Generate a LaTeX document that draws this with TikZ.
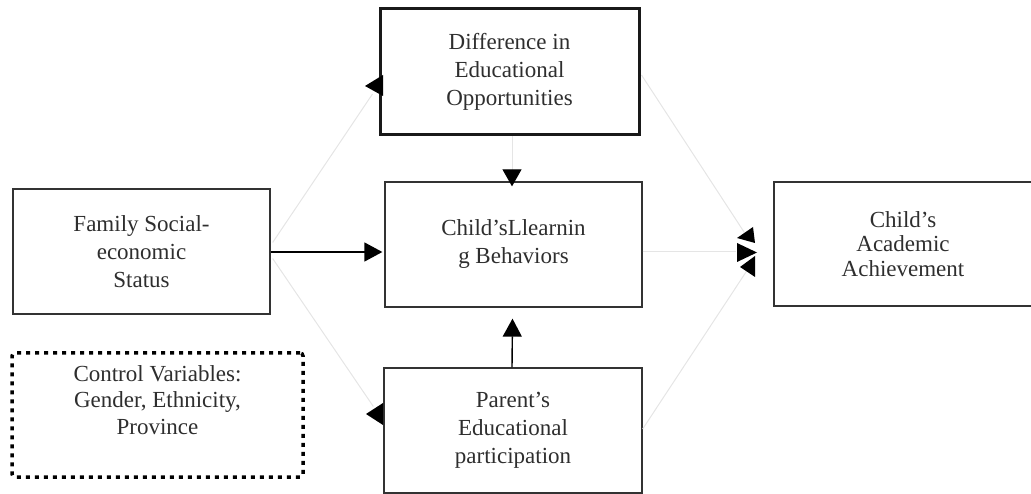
\documentclass[tikz,border=0pt]{standalone}
\usepackage{fontspec}
\setmainfont{Liberation Serif}
\usetikzlibrary{arrows.meta,calc}
\begin{document}
\begin{tikzpicture}[x=1pt,y=-1pt,
  box/.style={draw=black!80,line width=1.3pt,inner sep=0pt,align=center,
    text=black!82,font=\fontsize{23}{28}\selectfont},
  thickbox/.style={box,draw=black!90,line width=3pt},
  dotbox/.style={box,draw=black,line width=3.5pt,dash pattern=on 4pt off 5pt,
    rounded corners=3pt,font=\fontsize{23}{26.5}\selectfont},
  faint/.style={draw=black!10,line width=1pt},
  solid link/.style={draw=black,line width=1.4pt,-{Triangle[length=18pt,width=19pt]}},
  faint link/.style={faint,-{Triangle[length=17pt,width=19pt,color=black]}},
  tri/.style={fill=black}
]
\useasboundingbox (0,0) rectangle (1031,494);

% boxes
\node[thickbox,minimum width=259pt,minimum height=126pt] (diff) at (509.5,72)
  {Difference in\\Educational\\Opportunities};
\node[box,minimum width=257pt,minimum height=125pt] (fam) at (141.5,251.5)
  {Family Social-\\economic\\Status};
\node[box,minimum width=257pt,minimum height=125pt] (learn) at (513.5,244.5)
  {Child’sLlearnin\\g Behaviors};
\node[box,minimum width=258pt,minimum height=125pt] (par) at (513,430.5)
  {Parent’s\\Educational\\participation};
\node[box,minimum width=258pt,minimum height=124pt,
  font=\fontsize{23}{24.5}\selectfont] (ach) at (903,244)
  {Child’s\\Academic\\Achievement};
\node[dotbox,minimum width=291pt,minimum height=124pt] (ctrl) at (157.5,415)
  {Control Variables:\\Gender, Ethnicity,\\Province\\[4pt]};

% solid connectors
\draw[solid link] ($(fam.east)+(0,0.5)$) -- ($(learn.west)+(-2,7.5)$);
\draw[solid link] ($(par.north)+(-1,0)$) -- ($(learn.south)+(-1,11)$);
\draw[faint link] ($(diff.south)+(2.5,0)$) -- ($(learn.north)+(-1.5,5)$);

% faint connectors from family status
\draw[faint] ($(fam.east)+(2,-9)$) -- ($(diff.west)+(-6,22)$);
\fill[tri] (383,75) -- (383,96) -- (365,86) -- cycle;
\draw[faint] ($(fam.east)+(2,7)$) -- ($(par.west)+(-10,-24)$);
\fill[tri] (383,403) -- (383,425) -- (366,414) -- cycle;

% faint connectors into academic achievement
\draw[faint] ($(diff.east)+(1,3)$) -- ($(ach.west)+(-28,-10)$);
\fill[tri] (753,227) -- (755,243) -- (737,238) -- cycle;
\draw[faint] ($(learn.east)+(0,7.5)$) -- ($(ach.west)+(-37,8)$);
\fill[tri] (737,243) -- (737,262) -- (757,252.5) -- cycle;
\draw[faint] ($(par.east)+(0,-1.5)$) -- ($(ach.west)+(-26,26)$);
\fill[tri] (755,256) -- (755,277) -- (740,267) -- cycle;
\end{tikzpicture}
\end{document}
